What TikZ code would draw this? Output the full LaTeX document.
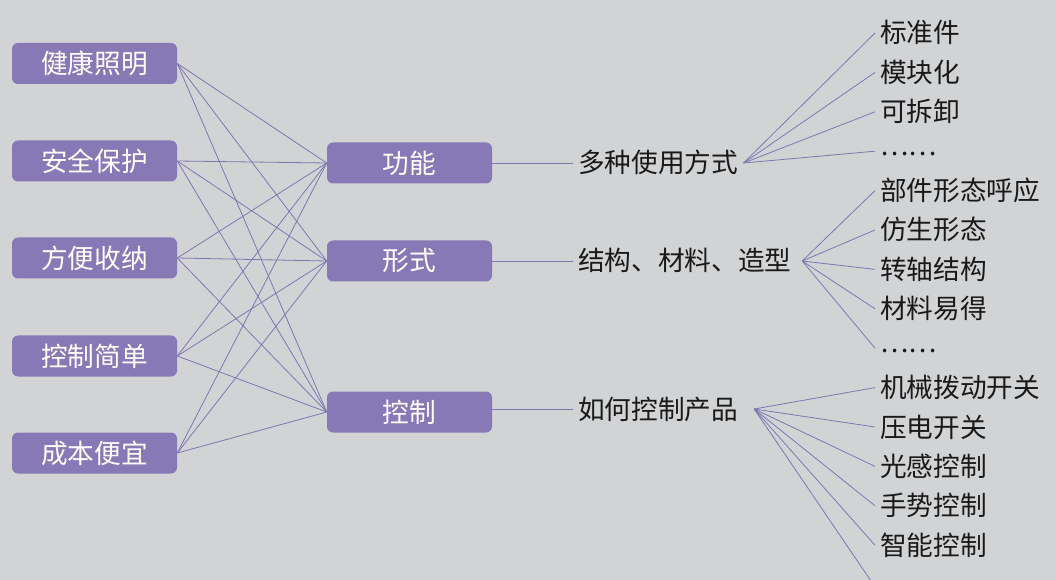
\documentclass[tikz,border=0pt]{standalone}
\usepackage{fontspec}
\newfontfamily\heiti{Noto Sans CJK SC}
\definecolor{bgcol}{HTML}{D2D3D5}
\definecolor{boxcol}{HTML}{8679B5}
\definecolor{linkcol}{HTML}{7E77B0}
\newcommand\middots{\raisebox{4.5pt}{……}}
\begin{document}
\begin{tikzpicture}[x=0.75pt, y=-0.75pt,
  box/.style={fill=boxcol, rounded corners=4.5pt, minimum width=123.75pt, minimum height=30.75pt,
    inner sep=0pt, text=white, font=\heiti\fontsize{20}{20}\selectfont},
  label/.style={inner xsep=3.75pt, inner ysep=0pt, text height=17pt, text depth=2pt,
    text=black!90, font=\heiti\fontsize{20}{20}\selectfont},
  item/.style={label, anchor=west},
  link/.style={draw=linkcol, line width=0.6pt}]
  \fill[bgcol] (0,0) rectangle (1055,580);
  \useasboundingbox (0,0) rectangle (1055,580);
  \foreach \n/\t/\y in {jk/健康照明/63.5, aq/安全保护/161, fb/方便收纳/258, kj/控制简单/356, cb/成本便宜/453}
    \node[box] (\n) at (94.5,\y) {\t};
  \node[box] (gn) at (409.5,163) {功能};
  \node[box] (xs) at (409.5,261) {形式};
  \node[box] (kz) at (409.5,412) {控制};
  \foreach \a in {jk,aq,fb,kj,cb}
    \foreach \b in {gn,xs,kz}
      \draw[link] (\a.east) -- (\b.west);
  \node[item] (fs) at (573,163) {多种使用方式};
  \node[item] (jg) at (573,261) {结构、材料、造型};
  \node[item] (hk) at (573,409) {如何控制产品};
  \draw[link] (gn) -- (fs);
  \draw[link] (xs) -- (jg);
  \draw[link] (kz.east |- hk.west) -- (hk);
  \foreach \n/\t [count=\k from 0] in {a1/标准件, a2/模块化, a3/可拆卸, a4/\middots,
      b1/部件形态呼应, b2/仿生形态, b3/转轴结构, b4/材料易得, b5/\middots,
      c1/机械拨动开关, c2/压电开关, c3/光感控制, c4/手势控制, c5/智能控制}
    \node[item] (\n) at (875,33+39.4*\k) {\t};
  \coordinate (c6) at (873,584);
  \foreach \s in {a1,a2,a3,a4}
    \draw[link] (fs.east) -- (\s.west);
  \foreach \s in {b1,b2,b3,b4,b5}
    \draw[link] ([xshift=4pt]jg.east) -- (\s.west);
  \foreach \s in {c1,c2,c3,c4,c5}
    \draw[link] ([xshift=8pt]hk.east) -- (\s.west);
  \draw[link] ([xshift=8pt]hk.east) -- (c6);
\end{tikzpicture}
\end{document}
